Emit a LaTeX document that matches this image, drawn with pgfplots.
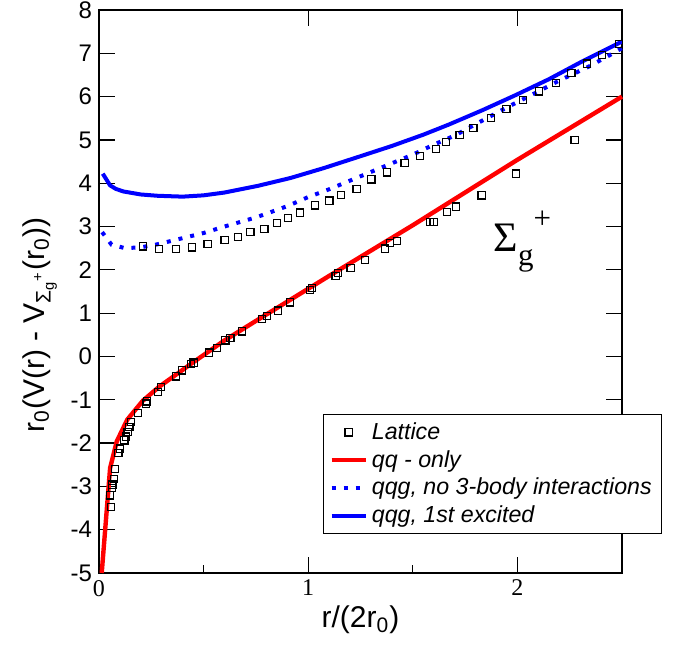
\documentclass[border=0pt]{standalone}
\usepackage{fontspec}
\setmainfont{Liberation Sans}
\newfontfamily\lserif{Liberation Serif}
\usepackage{pgfplots}
\pgfplotsset{compat=1.18}
\begin{document}
\begin{tikzpicture}
\begin{axis}[name=ax, scale only axis, width=261.5pt, height=281.5pt,
 xmin=0, xmax=2.5, ymin=-5, ymax=8,
 xtick={0,1,2}, xticklabels={0,1,2},
 xticklabel style={font=\lserif\fontsize{12}{12}\selectfont},
 ytick={-5,-4,-3,-2,-1,0,1,2,3,4,5,6,7,8},
 yticklabels={-5,-4,-3,-2,-1,0,1,2,3,4,5,6,7,8},
 yticklabel style={font=\fontsize{12}{12}\selectfont},
 major tick length=8pt,
 axis line style={line width=1pt},
 every tick/.style={black, line width=0.6pt},
 xlabel={r/(2r\textsubscript{0})},
 xlabel style={font=\fontsize{15}{15}\selectfont, yshift=2pt},
 ylabel={r\textsubscript{0}(V(r) - V\textsubscript{Σ\textsubscript{g}\textsuperscript{+}}(r\textsubscript{0}))},
 ylabel style={font=\fontsize{15}{15}\selectfont, at={(ticklabel cs:0.44)}},
 legend cell align=left,
 legend style={at={(rel axis cs:0.428,0.2824)}, anchor=north west,
   draw=black, line width=0.5pt, font=\itshape\fontsize{11.6}{14}\selectfont,
   inner xsep=3pt, inner ysep=2pt, row sep=0pt},
 clip=false
]
\addplot[only marks, mark=square, mark size=1.8pt, mark options={solid, draw=black, line width=0.6pt}] coordinates {
(0.053,-3.21) (0.056,-3.48) (0.061,-3.04) (0.064,-2.96) (0.072,-2.83) (0.077,-2.60)
(0.093,-2.23) (0.099,-2.13) (0.121,-1.94) (0.129,-1.85) (0.137,-1.75) (0.145,-1.63)
(0.153,-1.52) (0.185,-1.31) (0.209,2.54) (0.224,-1.09) (0.229,-1.04) (0.281,-0.82)
(0.287,2.48) (0.297,-0.70) (0.369,-0.46) (0.369,2.48) (0.396,-0.32) (0.441,-0.17)
(0.444,2.52) (0.452,-0.14) (0.519,2.60) (0.527,0.09) (0.564,0.19) (0.600,2.69)
(0.604,0.37) (0.628,0.42) (0.665,2.755) (0.684,0.58) (0.724,2.88) (0.780,0.86)
(0.791,2.94) (0.804,0.94) (0.851,3.08) (0.855,1.06) (0.904,3.19) (0.912,1.25)
(0.962,3.32) (1.008,1.54) (1.019,1.58) (1.033,3.49) (1.101,3.60) (1.131,1.86)
(1.142,1.92) (1.158,3.73) (1.203,2.04) (1.231,3.86) (1.272,2.23) (1.302,4.09)
(1.368,2.49) (1.376,4.25) (1.392,2.62) (1.424,2.67) (1.461,4.46) (1.535,4.63)
(1.583,3.10) (1.599,3.10) (1.610,4.79) (1.660,4.95) (1.663,3.33) (1.706,3.46)
(1.724,5.12) (1.790,5.28) (1.829,3.72) (1.874,5.50) (1.947,5.72) (1.993,4.22)
(2.028,5.92) (2.104,6.12) (2.185,6.32) (2.258,6.54) (2.273,5.00) (2.333,6.76)
(2.405,6.96) (2.487,7.21)
};
\addlegendentry{Lattice}
\addplot[red, line width=2.2pt, no marks] coordinates {
(0.013,-5.0) (0.053,-2.58) (0.085,-1.96) (0.135,-1.46) (0.21,-1.02) (0.29,-0.69)
(0.38,-0.38) (0.44,-0.17) (0.6,0.37) (0.75,0.82) (0.915,1.31) (1.107,1.88)
(1.5,3.03) (1.993,4.52) (2.5,6.0)
};
\addlegendentry{qq - only}
\addplot[blue, line width=2pt, no marks, dash pattern=on 2pt off 4pt] coordinates {
(0.015,2.87) (0.06,2.58) (0.125,2.50) (0.2,2.52) (0.28,2.59) (0.39,2.72) (0.5,2.85)
(0.6,3.0) (0.75,3.21) (0.9,3.47) (1.0,3.68) (1.1,3.86) (1.2,4.06) (1.3,4.26)
(1.4,4.46) (1.5,4.66) (1.6,4.89) (1.7,5.1) (1.83,5.44) (1.95,5.75) (2.08,6.07)
(2.2,6.37) (2.34,6.69) (2.45,6.98) (2.5,7.12)
};
\addlegendentry{qqg, no 3-body interactions}
\addplot[blue, line width=2pt, no marks] coordinates {
(0.018,4.22) (0.053,3.95) (0.08,3.87) (0.116,3.81) (0.2,3.74) (0.28,3.71) (0.4,3.69)
(0.5,3.72) (0.6,3.785) (0.76,3.94) (0.915,4.12) (1.075,4.35) (1.235,4.60) (1.4,4.86)
(1.55,5.12) (1.67,5.35) (1.83,5.68) (1.985,6.02) (2.15,6.40) (2.305,6.80) (2.5,7.27)
};
\addlegendentry{qqg, 1st excited}
\draw[line width=0.6pt] (axis cs:0.5,-5) -- ([yshift=4pt]axis cs:0.5,-5);
\draw[line width=0.6pt] (axis cs:1.5,-5) -- ([yshift=4pt]axis cs:1.5,-5);
\node[anchor=base west, inner sep=0pt, font=\lserif\fontsize{21}{21}\selectfont] at (axis cs:1.885,2.416)
 {Σ\raisebox{-7pt}{\fontsize{15.5}{15.5}\selectfont g}\raisebox{11.5pt}{\fontsize{15.5}{15.5}\selectfont +}};
\end{axis}
\pgfresetboundingbox
\path[use as bounding box] ([xshift=-49.5pt,yshift=-36pt]ax.south west) rectangle ([xshift=29pt,yshift=5pt]ax.north east);
\end{tikzpicture}
\end{document}
